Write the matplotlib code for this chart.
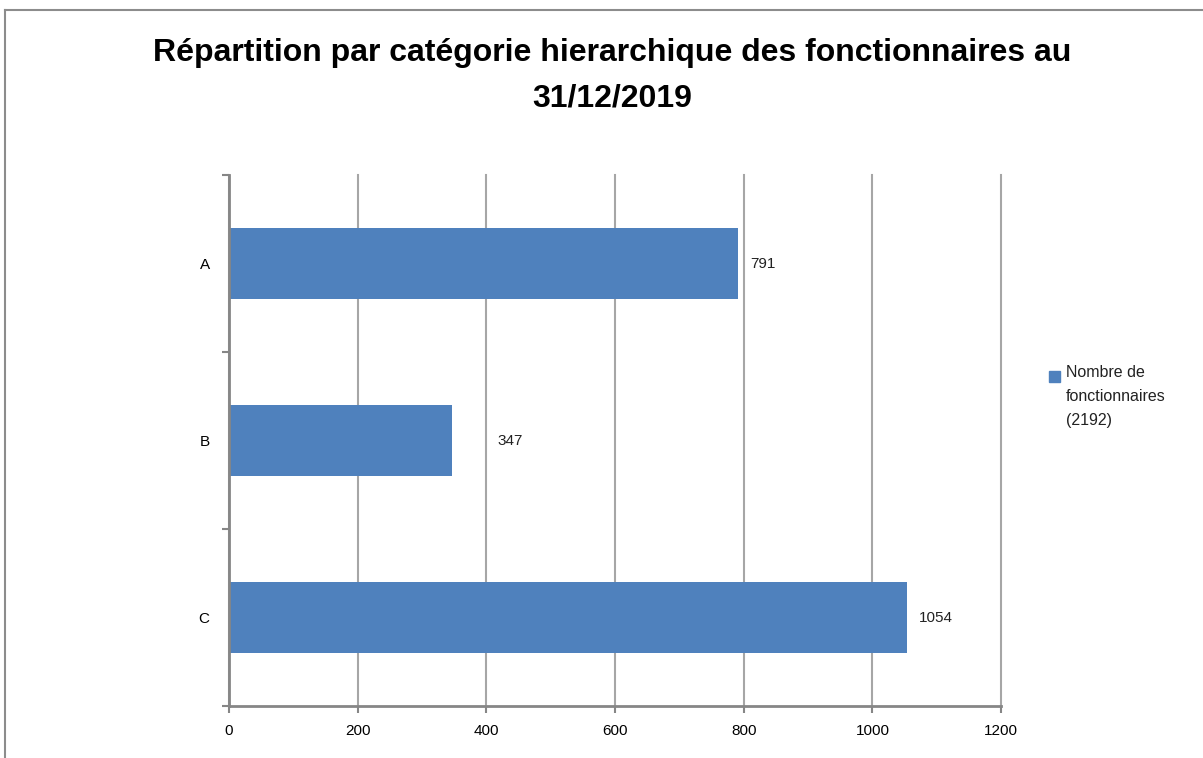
import matplotlib
matplotlib.use('Agg')
import matplotlib.pyplot as plt
from matplotlib.lines import Line2D

plt.rcParams['font.family'] = ['Liberation Sans', 'DejaVu Sans']

categories = ['A', 'B', 'C']
values = [791, 347, 1054]
label_offsets = [12, 45, 12]  # pixels to the right of the bar end
xticks = [0, 200, 400, 600, 800, 1000, 1200]
legend_label = 'Nombre de\nfonctionnaires\n(2192)'
title = 'Répartition par catégorie hierarchique des fonctionnaires au\n31/12/2019'

bar_color = '#4F81BD'
grid_color = '#A6A6A6'
spine_color = '#868686'

fig = plt.figure(figsize=(12.03, 7.58), dpi=100)
ax = fig.add_axes([0.1904, 0.0686, 0.6418, 0.7005])

pos = list(range(len(categories)))
ax.barh(pos, values, height=0.4, color=bar_color, zorder=3)
ax.set_ylim(len(categories) - 0.5, -0.5)
ax.set_xlim(0, 1200)

for p, v, off in zip(pos, values, label_offsets):
    ax.annotate(str(v), xy=(v, p), xytext=(off, 0), textcoords='offset pixels',
                va='center', ha='left', fontsize=11, color='#222222')

ax.set_xticks(xticks)
ax.set_xticklabels([str(t) for t in xticks], fontsize=11)
ax.set_yticks(pos)
ax.set_yticklabels(categories, fontsize=11)
ax.set_yticks([-0.5, 0.5, 1.5, 2.5], minor=True)
ax.tick_params(axis='y', which='major', length=0, pad=14)
ax.tick_params(axis='y', which='minor', length=5, color=spine_color, width=1.5)
ax.tick_params(axis='x', length=5, color=spine_color, width=1.5, pad=8)

ax.xaxis.grid(True, color=grid_color, linewidth=1.5, zorder=0)
for line in ax.get_xgridlines():
    line.set_clip_on(False)
for side in ['top', 'right']:
    ax.spines[side].set_visible(False)
for side in ['left', 'bottom']:
    ax.spines[side].set_color(spine_color)
    ax.spines[side].set_linewidth(2)
    ax.spines[side].set_zorder(4)

fig.text(0.509, 0.900, title, ha='center', va='center', fontsize=23,
         fontweight='bold', linespacing=1.7)

# legend
fig.patches.append(plt.Rectangle((1049 / 1203, 1 - 382 / 758), 11 / 1203, 11 / 758,
                                 transform=fig.transFigure, color=bar_color, figure=fig))
fig.text(1066 / 1203, 1 - 365 / 758, legend_label, ha='left', va='top', fontsize=11.5,
         linespacing=1.75, color='#222222')

# outer frame (cropped)
fig.add_artist(Line2D([5 / 1203, 1], [1 - 10 / 758, 1 - 10 / 758], color='#8C8C8C', lw=1.5,
                      transform=fig.transFigure))
fig.add_artist(Line2D([5 / 1203, 5 / 1203], [0, 1 - 10 / 758], color='#8C8C8C', lw=1.5,
                      transform=fig.transFigure))

fig.savefig('out.png', dpi=100)
